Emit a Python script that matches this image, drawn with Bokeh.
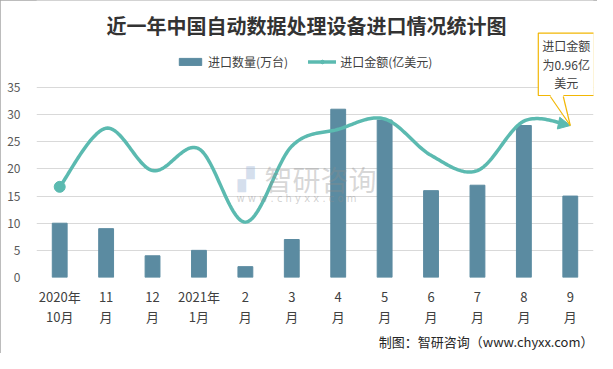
import numpy as np
from bokeh.plotting import figure
from bokeh.models import (Legend, LegendItem, Label, Arrow, NormalHead, FixedTicker, Range1d, Title)
from bokeh.embed import file_html
from bokeh.resources import INLINE

# ---- data ----
months = ["2020年\n10月", "11\n月", "12\n月", "2021年\n1月", "2\n月", "3\n月",
          "4\n月", "5\n月", "6\n月", "7\n月", "8\n月", "9\n月"]
quantity = [10, 9, 4, 5, 2, 7, 31, 29, 16, 17, 28, 15]          # 进口数量(万台)
amount = [16.7, 27.5, 19.7, 23.7, 10.2, 24.2, 27.3, 29.2, 22.5, 19.7, 28.8, 28.0]  # 进口金额(亿美元)
y_ticks = [0, 5, 10, 15, 20, 25, 30, 35]
y_max = 35
callout_text = "进口金额\n为0.96亿\n美元"

FONT = "Noto Sans CJK SC"
BAR = "#5b8ba1"
LINE = "#5bbab0"

W, H = 597, 353
ML, MR, MT, MB = 36, 4, 0, 76
FW, FH = W - ML - MR, H - MT - MB
AXIS_TOP = 87                      # pixel row of the top gridline
y_end = y_max * FH / (FH - AXIS_TOP)

idx = list(range(len(months)))
p = figure(width=W, height=H, output_backend="svg", toolbar_location=None,
           x_range=Range1d(-0.5, len(months) - 0.5), y_range=Range1d(0, y_end),
           min_border_left=ML, min_border_right=MR, min_border_top=MT, min_border_bottom=MB)
p.outline_line_color = None
p.background_fill_color = "white"
p.border_fill_color = "white"
p.styles = {"outline": "1px solid #a6a6a6", "outline-offset": "-1px"}

# axes
p.xaxis.ticker = FixedTicker(ticks=idx)
p.xaxis.major_label_overrides = {i: m for i, m in zip(idx, months)}
p.xaxis.axis_line_color = None
p.xaxis.major_tick_line_color = None
p.xaxis.minor_tick_line_color = None
p.xaxis.major_label_text_font = FONT
p.xaxis.major_label_text_font_size = "13px"
p.xaxis.major_label_text_color = "#404040"
p.xaxis.major_label_text_line_height = 1.1
p.xaxis.major_label_standoff = 3

p.yaxis.ticker = FixedTicker(ticks=y_ticks)
p.yaxis.axis_line_color = None
p.yaxis.major_tick_line_color = None
p.yaxis.minor_tick_line_color = None
p.yaxis.major_label_text_font = FONT
p.yaxis.major_label_text_font_size = "12px"
p.yaxis.major_label_text_color = "#595959"
p.yaxis.major_label_standoff = 10

p.xgrid.grid_line_color = None
p.ygrid.grid_line_color = "#d9d9d9"
p.ygrid.grid_line_width = 1

# watermark
p.add_layout(Label(x=201, y=FH - 179, x_units="screen", y_units="screen", text="▞",
                   text_font="DejaVu Sans", text_font_size="22px", text_color="#9fb6d6",
                   text_alpha=0.45, text_baseline="middle"))
p.add_layout(Label(x=228, y=FH - 178, x_units="screen", y_units="screen", text="智研咨询",
                   text_font=FONT, text_font_size="28px", text_color="#8c8c8c",
                   text_alpha=0.35, text_baseline="middle"))
p.add_layout(Label(x=200, y=FH - 198, x_units="screen", y_units="screen",
                   text="w w w . c h y x x . c o m",
                   text_font="DejaVu Sans", text_font_size="10px", text_color="#8c8c8c",
                   text_alpha=0.4, text_baseline="middle"))

# bars
bars = p.vbar(x=idx, top=quantity, width=0.32, fill_color=BAR, line_color=BAR)

# smooth line (Catmull-Rom through the data points)
pts = np.array([idx, amount], dtype=float).T
ext = np.vstack([pts[0], pts, pts[-1]])
xs, ys = [], []
for i in range(len(pts) - 1):
    p0, p1, p2, p3 = ext[i], ext[i + 1], ext[i + 2], ext[i + 3]
    m1 = (p2 - p0) / 2.0
    m2 = (p3 - p1) / 2.0
    last = (i == len(pts) - 2)
    ts = np.linspace(0, 0.86, 26) if last else np.linspace(0, 1, 30, endpoint=False)
    for t in ts:
        h00 = 2 * t**3 - 3 * t**2 + 1
        h10 = t**3 - 2 * t**2 + t
        h01 = -2 * t**3 + 3 * t**2
        h11 = t**3 - t**2
        q = h00 * p1 + h10 * m1 + h01 * p2 + h11 * m2
        xs.append(q[0]); ys.append(q[1])

curve = p.line(xs, ys, line_color=LINE, line_width=3.5, line_cap="round", line_join="round")
start = p.scatter([idx[0]], [amount[0]], size=11, marker="circle", fill_color=LINE, line_color=LINE)
p.add_layout(Arrow(end=NormalHead(size=12, fill_color=LINE, line_color=LINE, line_width=1),
                   x_start=xs[-1], y_start=ys[-1], x_end=idx[-1], y_end=amount[-1],
                   line_color=LINE, line_width=3.5))

# callout
px_x = FW / len(months)
px_y = (FH - AXIS_TOP) / y_max
tipx, tipy = idx[-1], amount[-1]
co = "#f2b705"
p.add_layout(Label(x=tipx, y=tipy, x_offset=-4, y_offset=30, text=callout_text,
                   text_font=FONT, text_font_size="12px", text_color="#404040",
                   text_align="center", text_baseline="bottom", text_line_height=1.1,
                   background_fill_color="white", border_line_color=co, border_line_width=1.2,
                   padding=4))
bx = [tipx - 20 / px_x, tipx - 7 / px_x, tipx]
by = [tipy + 29 / px_y, tipy + 29 / px_y, tipy]
ptr = p.patch([bx[0], bx[1], bx[2]], [by[0] + 1.5 / px_y, by[1] + 1.5 / px_y, by[2]],
              fill_color="white", line_color=None)
ptr.level = "overlay"
ptr_l = p.multi_line([[bx[0], bx[2]], [bx[1], bx[2]]], [[by[0], by[2]], [by[1], by[2]]],
                     line_color=co, line_width=1.2)
ptr_l.level = "overlay"

# legend
legend = Legend(items=[LegendItem(label="进口数量(万台)", renderers=[bars]),
                       LegendItem(label="进口金额(亿美元)", renderers=[curve, start])],
                location=(140, 207), orientation="horizontal",
                label_text_font=FONT, label_text_font_size="12px", label_text_color="#404040",
                glyph_width=28, glyph_height=9, label_height=16, label_standoff=4, spacing=20,
                padding=0, margin=0, border_line_color=None, background_fill_alpha=0)
p.add_layout(legend)

# title and source
p.add_layout(Label(x=270, y=FH - 25, x_units="screen", y_units="screen",
                   text="近一年中国自动数据处理设备进口情况统计图",
                   text_font=FONT, text_font_size="20px", text_font_style="bold",
                   text_color="#333333", text_align="center", text_baseline="middle"))
p.add_layout(Title(text="制图：智研咨询（www.chyxx.com）", align="right",
                   text_font=FONT, text_font_size="13px", text_color="#262626",
                   text_font_style="normal", standoff=0, offset=0), "below")

open("out.html", "w").write(file_html(p, INLINE))
